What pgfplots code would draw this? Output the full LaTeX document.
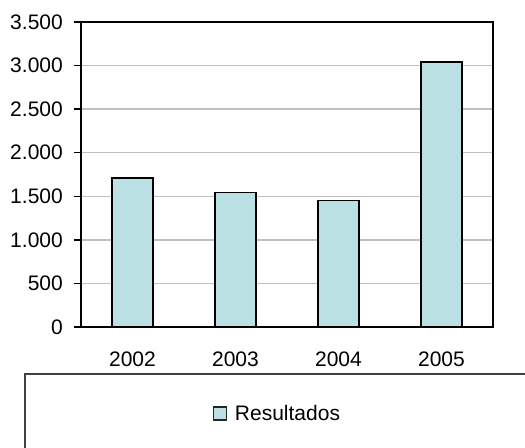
\documentclass[border=0pt]{standalone}
\usepackage{fontspec}
\setmainfont{Liberation Sans}
\usepackage{pgfplots}
\pgfplotsset{compat=1.18}
\definecolor{barfill}{HTML}{BBE0E3}
\definecolor{gridc}{HTML}{C0C0C0}
\begin{document}
\begin{tikzpicture}
\useasboundingbox (-81bp,-121bp) rectangle (444bp,327bp);
\begin{axis}[
  at={(0bp,0bp)}, anchor=south west,
  scale only axis, width=412bp, height=305bp,
  xmin=-0.5, xmax=3.5, ymin=0, ymax=3500,
  axis line style={black, line width=1.3bp},
  ytick={0,500,1000,1500,2000,2500,3000,3500},
  ytick pos=left,
  scaled y ticks=false,
  ymajorgrids, grid style={gridc, line width=1.3bp},
  xtick={0,1,2,3}, xticklabels={2002,2003,2004,2005},
  xtick style={draw=none},
  ytick style={black, line width=1.3bp},
  tick align=outside, major tick length=7bp,
  /pgf/number format/.cd, 1000 sep={.}, assume math mode=true, /pgfplots/.cd,
  tick label style={font=\fontsize{21bp}{25bp}\selectfont},
  yticklabel style={inner sep=0pt, xshift=-11bp},
  xticklabel style={inner sep=0pt, yshift=-17.4bp},
  legend style={at={(0.3203,-0.285)}, anchor=west, draw=none, fill=none,
    inner sep=0pt, column sep=7.5bp, nodes={inner sep=0pt},
    font=\fontsize{21bp}{25bp}\selectfont},
]
\addplot[ybar, bar width=41bp, fill=barfill, draw=black, line width=1.3bp,
  legend image code/.code={\draw[fill=barfill, draw=black!85, line width=1.3bp] (0bp,-6bp) rectangle (13bp,7bp);}]
  coordinates {(0,1710) (1,1545) (2,1450) (3,3040)};
\addlegendentry{Resultados}
\end{axis}
\draw[black!75, line width=1.3bp] (444bp,-47bp) -- (-56bp,-47bp) -- (-56bp,-121bp);
\end{tikzpicture}
\end{document}
